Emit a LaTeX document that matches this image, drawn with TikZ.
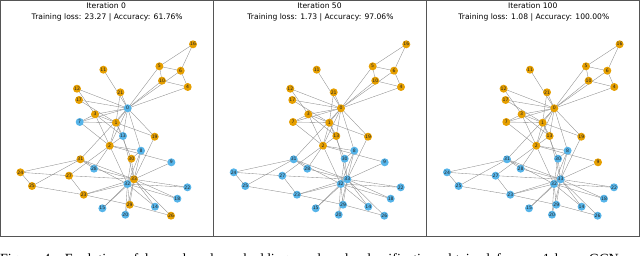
\documentclass[tikz,border=0pt]{standalone}
\usepackage{fontspec}
\newfontfamily\djv{DejaVu Sans}
\newfontfamily\lser{Liberation Serif}
\usetikzlibrary{backgrounds}
\definecolor{cO}{HTML}{E69F00}
\definecolor{cB}{HTML}{56B4E9}
\definecolor{framecol}{HTML}{555555}
\definecolor{edgecol}{HTML}{8C8C8C}
\tikzset{
  knode/.style={circle, inner sep=0pt, minimum size=8pt, draw=none, font=\djv\fontsize{4.6}{5}\selectfont, text=black!85},
  kedge/.style={draw=edgecol, line width=0.35pt},
  ttl/.style={font=\djv\fontsize{7.6}{9}\selectfont, anchor=base, inner sep=0pt},
  framest/.style={draw=framecol, line width=0.8pt},
}
\newcommand\kpanel[4]{% #1 panel number, #2 x offset, #3 title line 1, #4 title line 2
  \begin{scope}[xshift=#2pt]
    \foreach \i/\x/\y/\ca/\cb/\cc in {
      16/193.3/44.3/cO/cO/cO, 5/159.7/66.3/cO/cO/cO, 6/181/70.7/cO/cO/cO,
      10/162.3/80.7/cO/cO/cO, 4/188/87/cO/cO/cO, 11/103.7/69.7/cO/cO/cO,
      12/77.3/88.7/cO/cO/cO, 21/120.7/92.3/cO/cO/cO, 17/79.3/100/cO/cO/cO,
      0/128/108.3/cB/cO/cO, 3/95.3/114.3/cO/cO/cO, 7/80/122/cB/cO/cO,
      1/116.3/122.7/cO/cO/cO, 13/123.3/136/cB/cO/cO, 19/155/136.7/cO/cO/cO,
      2/110/145.7/cO/cO/cO, 8/141.3/150.7/cB/cB/cB, 30/131.7/158.7/cO/cB/cB,
      31/80.7/159.3/cO/cB/cB, 9/171.7/162.3/cB/cB/cO, 28/94.3/168.7/cB/cB/cB,
      24/20.7/172.3/cO/cB/cB, 27/69.3/175.7/cO/cB/cB, 33/134.3/179.3/cO/cB/cB,
      32/127.7/184/cB/cB/cB, 25/32.3/186/cO/cB/cB, 22/187.7/187.3/cB/cB/cB,
      23/84/194.7/cO/cB/cB, 18/177.7/198.7/cB/cB/cB, 29/130/204.7/cO/cB/cB,
      14/155.3/206.7/cB/cB/cB, 15/102.7/208.3/cB/cB/cB, 20/125.7/214.7/cB/cB/cB,
      26/171.3/215.7/cO/cB/cB} {
      \ifcase#1\or\edef\cl{\ca}\or\edef\cl{\cb}\or\edef\cl{\cc}\fi
      \node[knode, fill=\cl] (p#1n\i) at (\x,\y) {\i};
    }
    \begin{pgfonlayer}{background}
      \foreach \a/\b in {0/1,0/2,0/3,0/4,0/5,0/6,0/7,0/8,0/10,0/11,0/12,0/13,0/17,0/19,0/21,0/31,
        1/2,1/3,1/7,1/13,1/17,1/19,1/21,1/30,
        2/3,2/7,2/8,2/9,2/13,2/27,2/28,2/32,
        3/7,3/12,3/13,4/6,4/10,5/6,5/10,5/16,6/16,
        8/30,8/32,8/33,9/33,13/33,14/32,14/33,15/32,15/33,18/32,18/33,19/33,
        20/32,20/33,22/32,22/33,23/25,23/27,23/29,23/32,23/33,
        24/25,24/27,24/31,25/31,26/29,26/33,27/33,28/31,28/33,
        29/32,29/33,30/32,30/33,31/32,31/33,32/33}
        \draw[kedge] (p#1n\a.center) -- (p#1n\b.center);
    \end{pgfonlayer}
    \node[ttl] (t#1a) at (106.5,8.6) {#3};
    \node[ttl] (t#1b) at (107.5,19.6) {#4};
  \end{scope}
}
\begin{document}
\begin{tikzpicture}[x=1pt,y=-1pt]
  \useasboundingbox (0,0) rectangle (640,256);
  \begin{scope}
  \clip (0,0) rectangle (640,256);
  \kpanel{1}{-0.3}{Iteration 0}{Training loss: 23.27 | Accuracy: 61.76\%}
  \kpanel{2}{213}{Iteration 50}{Training loss: 1.73 | Accuracy: 97.06\%}
  \kpanel{3}{426.3}{Iteration 100}{Training loss: 1.08 | Accuracy: 100.00\%}
  \draw[framest] (0.5,0.4) rectangle (639.2,236.7);
  \draw[framest] (213.3,0.4) -- (213.3,236.7);
  \draw[framest] (426.6,0.4) -- (426.6,236.7);
  \node[anchor=base west, inner sep=0pt, font=\lser\fontsize{14}{16}\selectfont] (cap) at (0,263.5)
    {\makebox[660pt][s]{Figure 4: Evolution of learned node embeddings and node classification obtained from a 1-layer GCN model}};
  \end{scope}
\end{tikzpicture}
\end{document}
